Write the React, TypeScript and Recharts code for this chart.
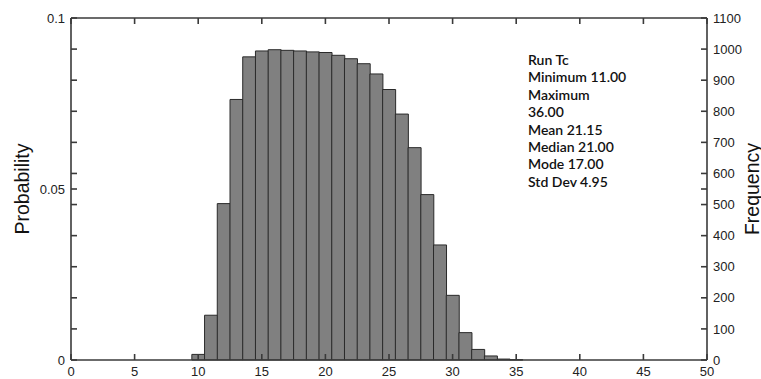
import { Bar, ComposedChart, Line, XAxis, YAxis } from "recharts"

// histogram bins (value of Tc) and counts
const bins = [10, 11, 12, 13, 14, 15, 16, 17, 18, 19, 20, 21, 22, 23, 24, 25, 26, 27, 28, 29, 30, 31, 32, 33, 34, 35]
const counts = [18, 144, 503, 838, 975, 994, 998, 996, 994, 991, 989, 980, 969, 953, 920, 870, 791, 683, 532, 370, 208, 88, 34, 13, 3, 1]

const xTicks = [0, 5, 10, 15, 20, 25, 30, 35, 40, 45, 50]
const freqTicks = [0, 100, 200, 300, 400, 500, 550, 600, 700, 800, 900, 1000, 1100]
const freqLabels = [0, 100, 200, 300, 400, 500, 600, 700, 800, 900, 1000, 1100]
const probMax = 0.1
const freqMax = 1100
const probLabels = [0, 0.05, 0.1]

const stats = ["Run Tc", "Minimum 11.00", "Maximum", "36.00", "Mean 21.15", "Median 21.00", "Mode 17.00", "Std Dev 4.95"]

const data = bins.map((b, i) => ({ x: b, freq: counts[i], prob: (counts[i] / freqMax) * probMax }))
const probTicks = freqTicks.map((f) => (f / freqMax) * probMax)

const axisColor = "#3a3a3a"
const tickFont = { fontFamily: "'Liberation Sans', Arial, sans-serif", fontSize: 13, fill: "#222" }
const titleStyle = {
  position: "absolute" as const,
  top: 189,
  transform: "translate(-50%, -50%) rotate(-90deg)",
  fontFamily: "'Liberation Sans', Arial, sans-serif",
  fontSize: 19.5,
  color: "#111",
  whiteSpace: "nowrap" as const,
}

export default function App() {
  return (
    <div style={{ position: "absolute", left: 0, top: 0, width: 761, height: 379, background: "#fff" }}>
      <ComposedChart width={761} height={379} data={data} margin={{ top: 17, right: 0, bottom: 0, left: 0 }} barCategoryGap={0} barGap={0}>
        <XAxis
          xAxisId="b"
          dataKey="x"
          type="number"
          domain={[0, 50]}
          ticks={xTicks}
          height={19}
          tickSize={-6}
          tickMargin={13}
          stroke={axisColor}
          strokeWidth={1.6}
          tick={tickFont}
          interval={0}
        />
        <XAxis
          xAxisId="t"
          orientation="top"
          dataKey="x"
          type="number"
          domain={[0, 50]}
          ticks={xTicks}
          height={1}
          tickSize={-6}
          tickFormatter={() => ""}
          stroke={axisColor}
          strokeWidth={1.6}
          interval={0}
        />
        <YAxis
          yAxisId="p"
          orientation="left"
          type="number"
          domain={[0, probMax]}
          ticks={probTicks}
          width={71}
          tickSize={-6}
          tickMargin={12}
          interval={0}
          stroke={axisColor}
          strokeWidth={1.6}
          tick={tickFont}
          tickFormatter={(v: number) => {
            const hit = probLabels.find((p) => Math.abs(p - v) < 1e-9)
            return hit === undefined ? "" : String(hit)
          }}
        />
        <YAxis
          yAxisId="f"
          orientation="right"
          type="number"
          domain={[0, freqMax]}
          ticks={freqTicks}
          width={54}
          tickSize={-6}
          tickMargin={12}
          interval={0}
          stroke={axisColor}
          strokeWidth={1.6}
          tick={tickFont}
          tickFormatter={(v: number) => (freqLabels.includes(v) ? String(v) : "")}
        />
        <Bar xAxisId="b" yAxisId="f" dataKey="freq" fill="#808080" stroke="#2a2a2a" strokeWidth={1} isAnimationActive={false} />
        {/* invisible series so the probability and top axes have something bound to them */}
        <Line xAxisId="t" yAxisId="p" dataKey="prob" stroke="none" dot={false} activeDot={false} isAnimationActive={false} />
      </ComposedChart>

      <div style={{ ...titleStyle, left: 22 }}>Probability</div>
      <div style={{ ...titleStyle, left: 752 }}>Frequency</div>
      <div
        style={{
          position: "absolute",
          left: 528,
          top: 51,
          fontFamily: "Lato, 'Noto Sans', sans-serif",
          fontWeight: 600,
          fontSize: 14,
          lineHeight: "17.4px",
          color: "#111",
          whiteSpace: "nowrap",
        }}
      >
        {stats.map((s) => (
          <div key={s}>{s}</div>
        ))}
      </div>
    </div>
  )
}
